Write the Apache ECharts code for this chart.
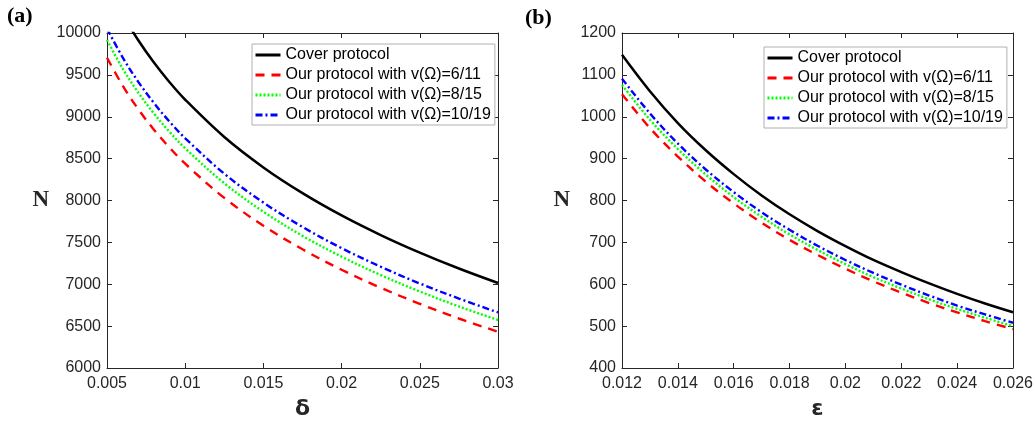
<!DOCTYPE html>
<html>
<head>
<meta charset="utf-8">
<script src="https://cdn.jsdelivr.net/npm/echarts@6/dist/echarts.min.js"></script>
<style>html,body{margin:0;padding:0;background:#fff;}#c{width:1036px;height:425px;}</style>
</head>
<body>
<div id="c"></div>
<script>
// ---- Panel (a): N vs delta ----
const deltaX = [0.005, 0.006, 0.007, 0.008, 0.009, 0.01, 0.0125, 0.015, 0.0175, 0.02, 0.0225, 0.025, 0.0275, 0.03];
const coverA = [10583, 10220, 9913, 9647, 9412, 9203, 8758, 8395, 8088, 7822, 7588, 7378, 7188, 7015];
const ours611A = [9705, 9372, 9090, 8846, 8631, 8439, 8031, 7698, 7417, 7173, 6958, 6766, 6591, 6433];
const ours815A = [9916, 9576, 9288, 9039, 8819, 8623, 8206, 7866, 7578, 7329, 7110, 6913, 6735, 6573];
const ours1019A = [10054, 9709, 9417, 9165, 8941, 8743, 8320, 7975, 7684, 7431, 7209, 7009, 6829, 6664];

// ---- Panel (b): N vs epsilon ----
const epsX = [0.012, 0.013, 0.014, 0.015, 0.016, 0.017, 0.018, 0.019, 0.02, 0.021, 0.022, 0.023, 0.024, 0.025, 0.026];
const coverB = [1148, 1061, 985, 920, 863, 812, 767, 727, 691, 658, 629, 602, 577, 554, 533];
const ours611B = [1054, 973, 905, 845, 793, 747, 706, 670, 637, 607, 580, 555, 533, 512, 493];
const ours815B = [1076, 993, 923, 862, 808, 761, 719, 682, 648, 617, 590, 564, 541, 520, 500];
const ours1019B = [1091, 1008, 936, 874, 820, 772, 730, 692, 658, 627, 599, 573, 549, 528, 508];

const seriesNames = ['Cover protocol', 'Our protocol with v(\u03A9)=6/11', 'Our protocol with v(\u03A9)=8/15', 'Our protocol with v(\u03A9)=10/19'];

const styles = [
  {color: '#000000', width: 2.5, type: 'solid'},
  {color: '#ff0000', width: 2.4, type: [9, 7]},
  {color: '#00ff00', width: 2.4, type: [2, 2]},
  {color: '#0000ff', width: 2.4, type: [7, 3, 2, 3]}
];

const axisColor = '#262626';
const tickFont = {fontFamily: 'Liberation Sans', fontSize: 16, color: axisColor};

function xAx(gi, pos, min, max, interval, name, showLabel) {
  return {
    type: 'value', gridIndex: gi, position: pos, min: min, max: max, interval: interval,
    name: showLabel ? name : '', nameLocation: 'middle', nameGap: 30,
    nameTextStyle: {fontFamily: 'DejaVu Sans', fontWeight: 'bold', fontSize: 22, color: axisColor},
    axisLine: {show: true, onZero: false, lineStyle: {color: axisColor, width: 1}},
    axisTick: {show: true, inside: true, length: 5, lineStyle: {color: axisColor}},
    axisLabel: Object.assign({show: showLabel, margin: 8, formatter: v => String(+v.toFixed(4))}, tickFont),
    splitLine: {show: false}
  };
}
function yAx(gi, pos, min, max, interval, showLabel, gap) {
  return {
    type: 'value', gridIndex: gi, position: pos, min: min, max: max, interval: interval,
    name: showLabel ? 'N' : '', nameLocation: 'middle', nameGap: gap, nameRotate: 0,
    nameTextStyle: {fontFamily: 'Liberation Serif', fontWeight: 'bold', fontSize: 23, color: axisColor},
    axisLine: {show: true, onZero: false, lineStyle: {color: axisColor, width: 1}},
    axisTick: {show: true, inside: true, length: 5, lineStyle: {color: axisColor}},
    axisLabel: Object.assign({show: showLabel, margin: 6, formatter: v => String(v)}, tickFont),
    splitLine: {show: false}
  };
}

const setsA = [coverA, ours611A, ours815A, ours1019A];
const setsB = [coverB, ours611B, ours815B, ours1019B];

const series = [];
setsA.forEach((arr, i) => {
  series.push({
    name: seriesNames[i], type: 'line', xAxisIndex: 0, yAxisIndex: 0,
    data: deltaX.map((x, j) => [x, arr[j]]),
    symbol: 'none', smooth: 0.35, clip: true,
    lineStyle: {color: styles[i].color, width: styles[i].width, type: styles[i].type},
    itemStyle: {color: styles[i].color}, z: 10 - i
  });
});
setsB.forEach((arr, i) => {
  series.push({
    name: seriesNames[i], type: 'line', xAxisIndex: 2, yAxisIndex: 2,
    data: epsX.map((x, j) => [x, arr[j]]),
    symbol: 'none', smooth: 0.35, clip: true,
    lineStyle: {color: styles[i].color, width: styles[i].width, type: styles[i].type},
    itemStyle: {color: styles[i].color}, z: 10 - i
  });
});

function legend(left, top) {
  return {
    data: seriesNames, orient: 'vertical', left: left, top: top,
    itemWidth: 25, itemHeight: 14, itemGap: 4,
    padding: [3, 4, 2, 2],
    borderColor: '#b0b0b0', borderWidth: 1, backgroundColor: '#ffffff',
    itemStyle: {opacity: 0},
    lineStyle: {width: 3},
    textStyle: {fontFamily: 'Liberation Sans', fontSize: 16, color: '#000'},
    selectedMode: false
  };
}

const chart = echarts.init(document.getElementById('c'), null, {renderer: 'canvas'});
chart.setOption({
  animation: false,
  backgroundColor: '#ffffff',
  grid: [
    {left: 107, right: 538, top: 33, bottom: 50},
    {left: 622, right: 23, top: 33, bottom: 55}
  ],
  xAxis: [
    xAx(0, 'bottom', 0.005, 0.03, 0.005, '\u03B4', true),
    xAx(0, 'top', 0.005, 0.03, 0.005, '', false),
    xAx(1, 'bottom', 0.012, 0.026, 0.002, '\u03B5', true),
    xAx(1, 'top', 0.012, 0.026, 0.002, '', false)
  ],
  yAxis: [
    yAx(0, 'left', 6000, 10000, 500, true, 58),
    yAx(0, 'right', 6000, 10000, 500, false, 0),
    yAx(1, 'left', 400, 1200, 100, true, 52),
    yAx(1, 'right', 400, 1200, 100, false, 0)
  ],
  legend: [legend(252, 44), legend(764, 47)],
  series: series,
  graphic: [
    {type: 'text', left: 7, top: 5, style: {text: '(a)', font: 'bold 22px "Liberation Serif"', fill: '#000'}},
    {type: 'text', left: 525, top: 7, style: {text: '(b)', font: 'bold 22px "Liberation Serif"', fill: '#000'}}
  ]
});
</script>
</body>
</html>
